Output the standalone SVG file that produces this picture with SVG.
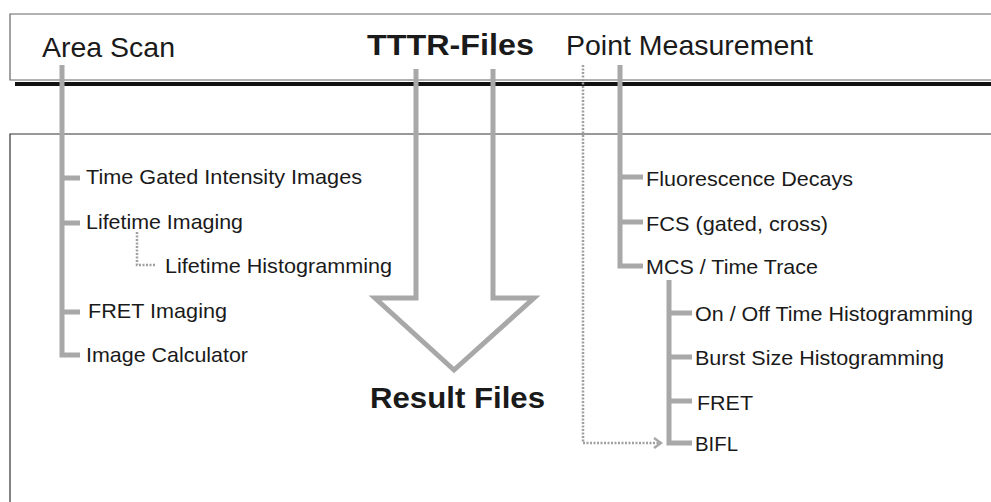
<svg xmlns="http://www.w3.org/2000/svg" width="991" height="502" viewBox="0 0 991 502">
<style>
.t{font-family:"Liberation Sans",Arial,sans-serif;fill:#1a1a1a}
.s{font-size:21px}
.h{font-size:28px}
.b{font-size:30px;font-weight:bold}
.g{fill:none;stroke:#a8a8a8;stroke-width:5}
.d{fill:none;stroke:#a0a0a0;stroke-width:2.5;stroke-dasharray:2 1.5}
</style>
<defs>
<marker id="chev" markerWidth="10" markerHeight="12" refX="8" refY="6" orient="auto" markerUnits="userSpaceOnUse">
<path d="M1,1 L8,6 L1,11" fill="none" stroke="#a8a8a8" stroke-width="2.5"/>
</marker>
</defs>
<rect width="991" height="502" fill="#fff"/>
<g id="frames">
<path d="M991,14 H10 V80 H991" fill="none" stroke="#666" stroke-width="1.2"/>
<rect x="15" y="82" width="976" height="4" fill="#111"/>
<path d="M991,134 H10 V502" fill="none" stroke="#333" stroke-width="1.2"/>
</g>
<g id="connectors">
<path class="g" d="M62,65 V355 H80"/>
<path class="g" d="M62,178 H80 M62,223 H80 M62,312 H80"/>
<path class="d" d="M137,232 V265 H156"/>
<path class="g" d="M416,69 V298 H375 L454,370 L534,298 H493 V69" stroke-linejoin="miter"/>
<path class="g" d="M620,65 V266 H643 M620,177 H643 M620,222 H643"/>
<path class="g" d="M669,280 V443 H692 M669,313 H692 M669,357 H692 M669,401 H692"/>
<path class="d" d="M583,65 V443 H661" marker-end="url(#chev)"/>
</g>
<g id="headers">
<text class="t h" x="42" y="57" textLength="133" lengthAdjust="spacingAndGlyphs">Area Scan</text>
<text class="t b" x="367" y="55" textLength="167" lengthAdjust="spacingAndGlyphs">TTTR-Files</text>
<text class="t h" x="566" y="55" textLength="247" lengthAdjust="spacingAndGlyphs">Point Measurement</text>
<text class="t b" x="370" y="408" textLength="175" lengthAdjust="spacingAndGlyphs">Result Files</text>
</g>
<g id="area-items">
<text class="t s" x="86" y="184" textLength="276" lengthAdjust="spacingAndGlyphs">Time Gated Intensity Images</text>
<text class="t s" x="86" y="229" textLength="157" lengthAdjust="spacingAndGlyphs">Lifetime Imaging</text>
<text class="t s" x="165" y="273" textLength="227" lengthAdjust="spacingAndGlyphs">Lifetime Histogramming</text>
<text class="t s" x="88" y="318" textLength="139" lengthAdjust="spacingAndGlyphs">FRET Imaging</text>
<text class="t s" x="86" y="362" textLength="162" lengthAdjust="spacingAndGlyphs">Image Calculator</text>
</g>
<g id="point-items">
<text class="t s" x="646" y="186" textLength="207" lengthAdjust="spacingAndGlyphs">Fluorescence Decays</text>
<text class="t s" x="646" y="231" textLength="182" lengthAdjust="spacingAndGlyphs">FCS (gated, cross)</text>
<text class="t s" x="646" y="274" textLength="172" lengthAdjust="spacingAndGlyphs">MCS / Time Trace</text>
<text class="t s" x="695" y="321" textLength="278" lengthAdjust="spacingAndGlyphs">On / Off Time Histogramming</text>
<text class="t s" x="695" y="365" textLength="249" lengthAdjust="spacingAndGlyphs">Burst Size Histogramming</text>
<text class="t s" x="697" y="410" textLength="56" lengthAdjust="spacingAndGlyphs">FRET</text>
<text class="t s" x="695" y="451" textLength="43" lengthAdjust="spacingAndGlyphs">BIFL</text>
</g>
</svg>
